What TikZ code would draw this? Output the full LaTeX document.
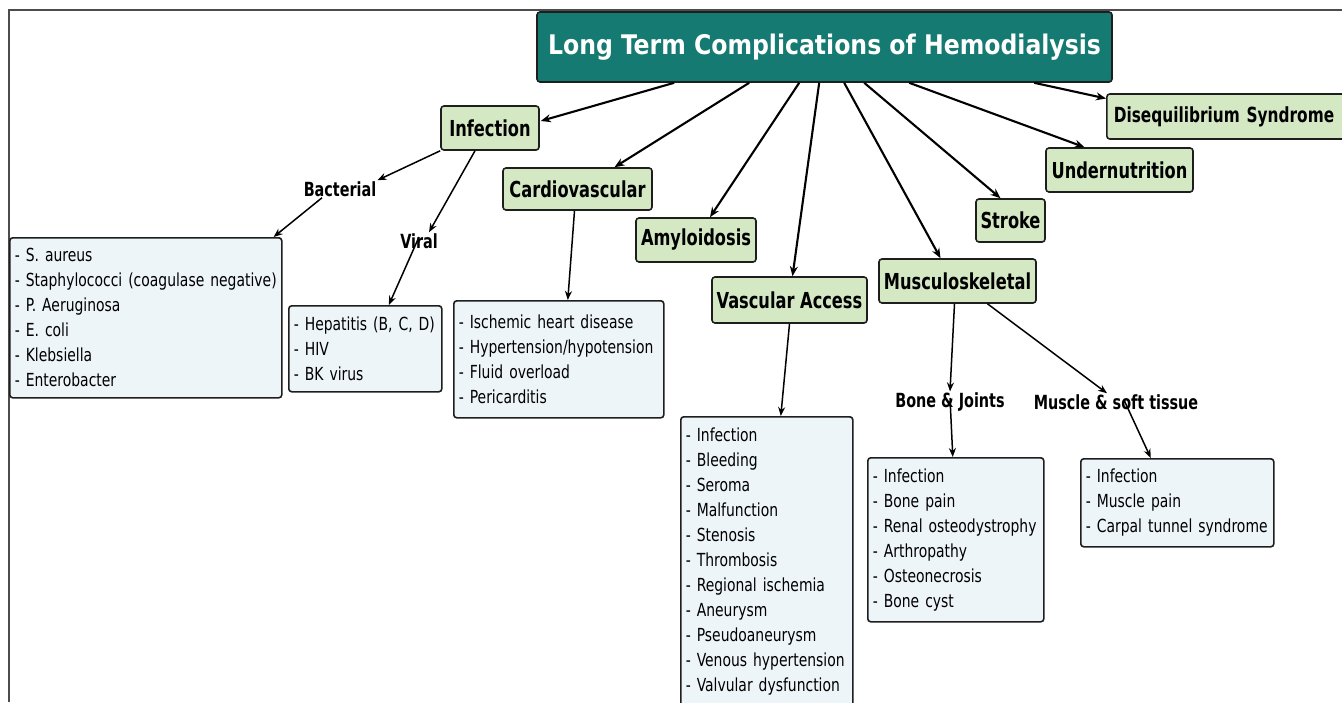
\documentclass[tikz,border=0pt]{standalone}
\usepackage{fontspec}
\usetikzlibrary{arrows.meta,calc}
\newfontfamily\titlefont[FakeStretch=0.97,BoldFont={DejaVu Sans Condensed Bold}]{DejaVu Sans Condensed}
\newfontfamily\nodefont[FakeStretch=0.82,BoldFont={DejaVu Sans Condensed Bold}]{DejaVu Sans Condensed}
\newfontfamily\listfont[FakeStretch=0.86]{DejaVu Sans Condensed}
\definecolor{teal1}{RGB}{21,122,114}
\definecolor{green1}{RGB}{212,232,196}
\definecolor{list1}{RGB}{238,245,248}
\definecolor{edge1}{RGB}{30,30,30}
\tikzset{
  titlebox/.style={draw=edge1,line width=1.6pt,fill=teal1,rounded corners=3pt,text=white,
    font=\titlefont\bfseries\fontsize{27}{30}\selectfont,inner sep=0pt},
  catbox/.style={draw=edge1,line width=1.6pt,fill=green1,rounded corners=3pt,
    font=\nodefont\bfseries\fontsize{22}{24}\selectfont,inner sep=0pt},
  listbox/.style={draw=edge1,line width=1.6pt,fill=list1,rounded corners=3pt,
    font=\listfont\fontsize{18}{25}\selectfont,align=left,inner xsep=5pt,inner ysep=0pt,anchor=north west},
  lab/.style={font=\nodefont\bfseries\fontsize{19.5}{22}\selectfont,inner sep=1pt},
  mainarrow/.style={draw=black,line width=2.1pt,-{Stealth[length=10pt,width=8pt]}},
  subarrow/.style={draw=black,line width=1.5pt,-{Stealth[length=9pt,width=7pt]}},
}
\begin{document}
\begin{tikzpicture}[x=1pt,y=-1pt]
\useasboundingbox (0,0) rectangle (1342,702);
% frame
\draw[line width=1.2pt,black!70] (9,702) -- (9,10) -- (1342,10);

% title and categories
\node[titlebox,minimum width=575pt,minimum height=70pt] (title) at (824.5,47) {Long Term Complications of Hemodialysis};
\node[catbox,minimum width=98pt,minimum height=44pt] (inf) at (490,128) {Infection};
\node[catbox,minimum width=149pt,minimum height=42pt] (cardio) at (577.5,189) {Cardiovascular};
\node[catbox,minimum width=120pt,minimum height=44pt] (amy) at (696,240) {Amyloidosis};
\node[catbox,minimum width=155pt,minimum height=46pt] (va) at (789.5,300) {Vascular Access};
\node[catbox,minimum width=157pt,minimum height=44pt] (musc) at (957.5,281) {Musculoskeletal};
\node[catbox,minimum width=69pt,minimum height=43pt] (stroke) at (1010.5,220.5) {Stroke};
\node[catbox,minimum width=147pt,minimum height=44pt] (under) at (1119.5,170) {Undernutrition};
\node[catbox,minimum width=250pt,minimum height=45pt,anchor=west,align=left,inner xsep=7pt,text width=236pt,font=\nodefont\bfseries\fontsize{20.8}{24}\selectfont] (dis) at (1106,116.5) {Disequilibrium Syndrome};

% labels
\node[lab] (bactlab) at (340,189) {Bacterial};
\node[lab] (virlab) at (419,241) {Viral};
\node[lab] (bonelab) at (950,402) {Bone \& Joints};
\node[lab] (muslab) at (1116,402) {Muscle \& soft tissue};

% lists
\node[listbox,minimum width=272pt,minimum height=160pt,text width=262pt] (blist) at (9,237) {- S. aureus\\- Staphylococci (coagulase negative)\\- P. Aeruginosa\\- E. coli\\- Klebsiella\\- Enterobacter};
\node[listbox,minimum width=153pt,minimum height=86pt,text width=143pt] (vlist) at (288,305) {- Hepatitis (B, C, D)\\- HIV\\- BK virus};
\node[listbox,minimum width=210pt,minimum height=117pt,text width=200pt] (clist) at (453,300) {- Ischemic heart disease\\- Hypertension/hypotension\\- Fluid overload\\- Pericarditis};
\node[listbox,minimum width=172pt,minimum height=290pt,text width=162pt] (valist) at (680,416) {- Infection\\- Bleeding\\- Seroma\\- Malfunction\\- Stenosis\\- Thrombosis\\- Regional ischemia\\- Aneurysm\\- Pseudoaneurysm\\- Venous hypertension\\- Valvular dysfunction};
\node[listbox,minimum width=176pt,minimum height=164pt,text width=166pt] (bolist) at (867,457) {- Infection\\- Bone pain\\- Renal osteodystrophy\\- Arthropathy\\- Osteonecrosis\\- Bone cyst};
\node[listbox,minimum width=193pt,minimum height=88pt,text width=183pt] (mlist) at (1080,458) {- Infection\\- Muscle pain\\- Carpal tunnel syndrome};

% main arrows
\draw[mainarrow] ($(title.south west)+(138,0)$) -- ([yshift=7pt,xshift=1pt]inf.east);
\draw[mainarrow] ($(title.south west)+(213,0)$) -- ([xshift=37pt]cardio.north);
\draw[mainarrow] ($(title.south west)+(263,0)$) -- ([xshift=14pt]amy.north);
\draw[mainarrow] ($(title.south west)+(283,0)$) -- ([xshift=3pt]va.north);
\draw[mainarrow] ($(title.south west)+(308,0)$) -- ([xshift=-17pt]musc.north);
\draw[mainarrow] ($(title.south west)+(328,0)$) -- ([xshift=-10pt]stroke.north);
\draw[mainarrow] ($(title.south west)+(373,0)$) -- ([xshift=-35pt]under.north);
\draw[mainarrow] ($(title.south west)+(498,0)$) -- ([yshift=18pt]dis.west);

% sub arrows
\draw[subarrow] (inf.south west) -- (bactlab.north east);
\draw[subarrow] ([xshift=-18pt]bactlab.south) -- ([xshift=-9pt]blist.north east);
\draw[subarrow] ([xshift=-15pt]inf.south) -- ([xshift=10pt]virlab.north);
\draw[subarrow] ([yshift=4pt]virlab.center) -- ([xshift=23.5pt]vlist.north);
\draw[subarrow] ([xshift=-3pt]cardio.south) -- ([xshift=9pt]clist.north);
\draw[subarrow] (va.south) -- ([xshift=14pt]valist.north);
\draw[subarrow] ([xshift=-3pt]musc.south) -- (bonelab.north);
\draw[subarrow] ([yshift=4pt]bonelab.center) -- ([xshift=-3pt]bolist.north);
\draw[subarrow] ([xshift=30pt]musc.south) -- ([xshift=-9pt]muslab.north);
\draw[subarrow] ([xshift=8pt,yshift=2pt]muslab.center) -- ([xshift=-26.5pt]mlist.north);
\end{tikzpicture}
\end{document}
